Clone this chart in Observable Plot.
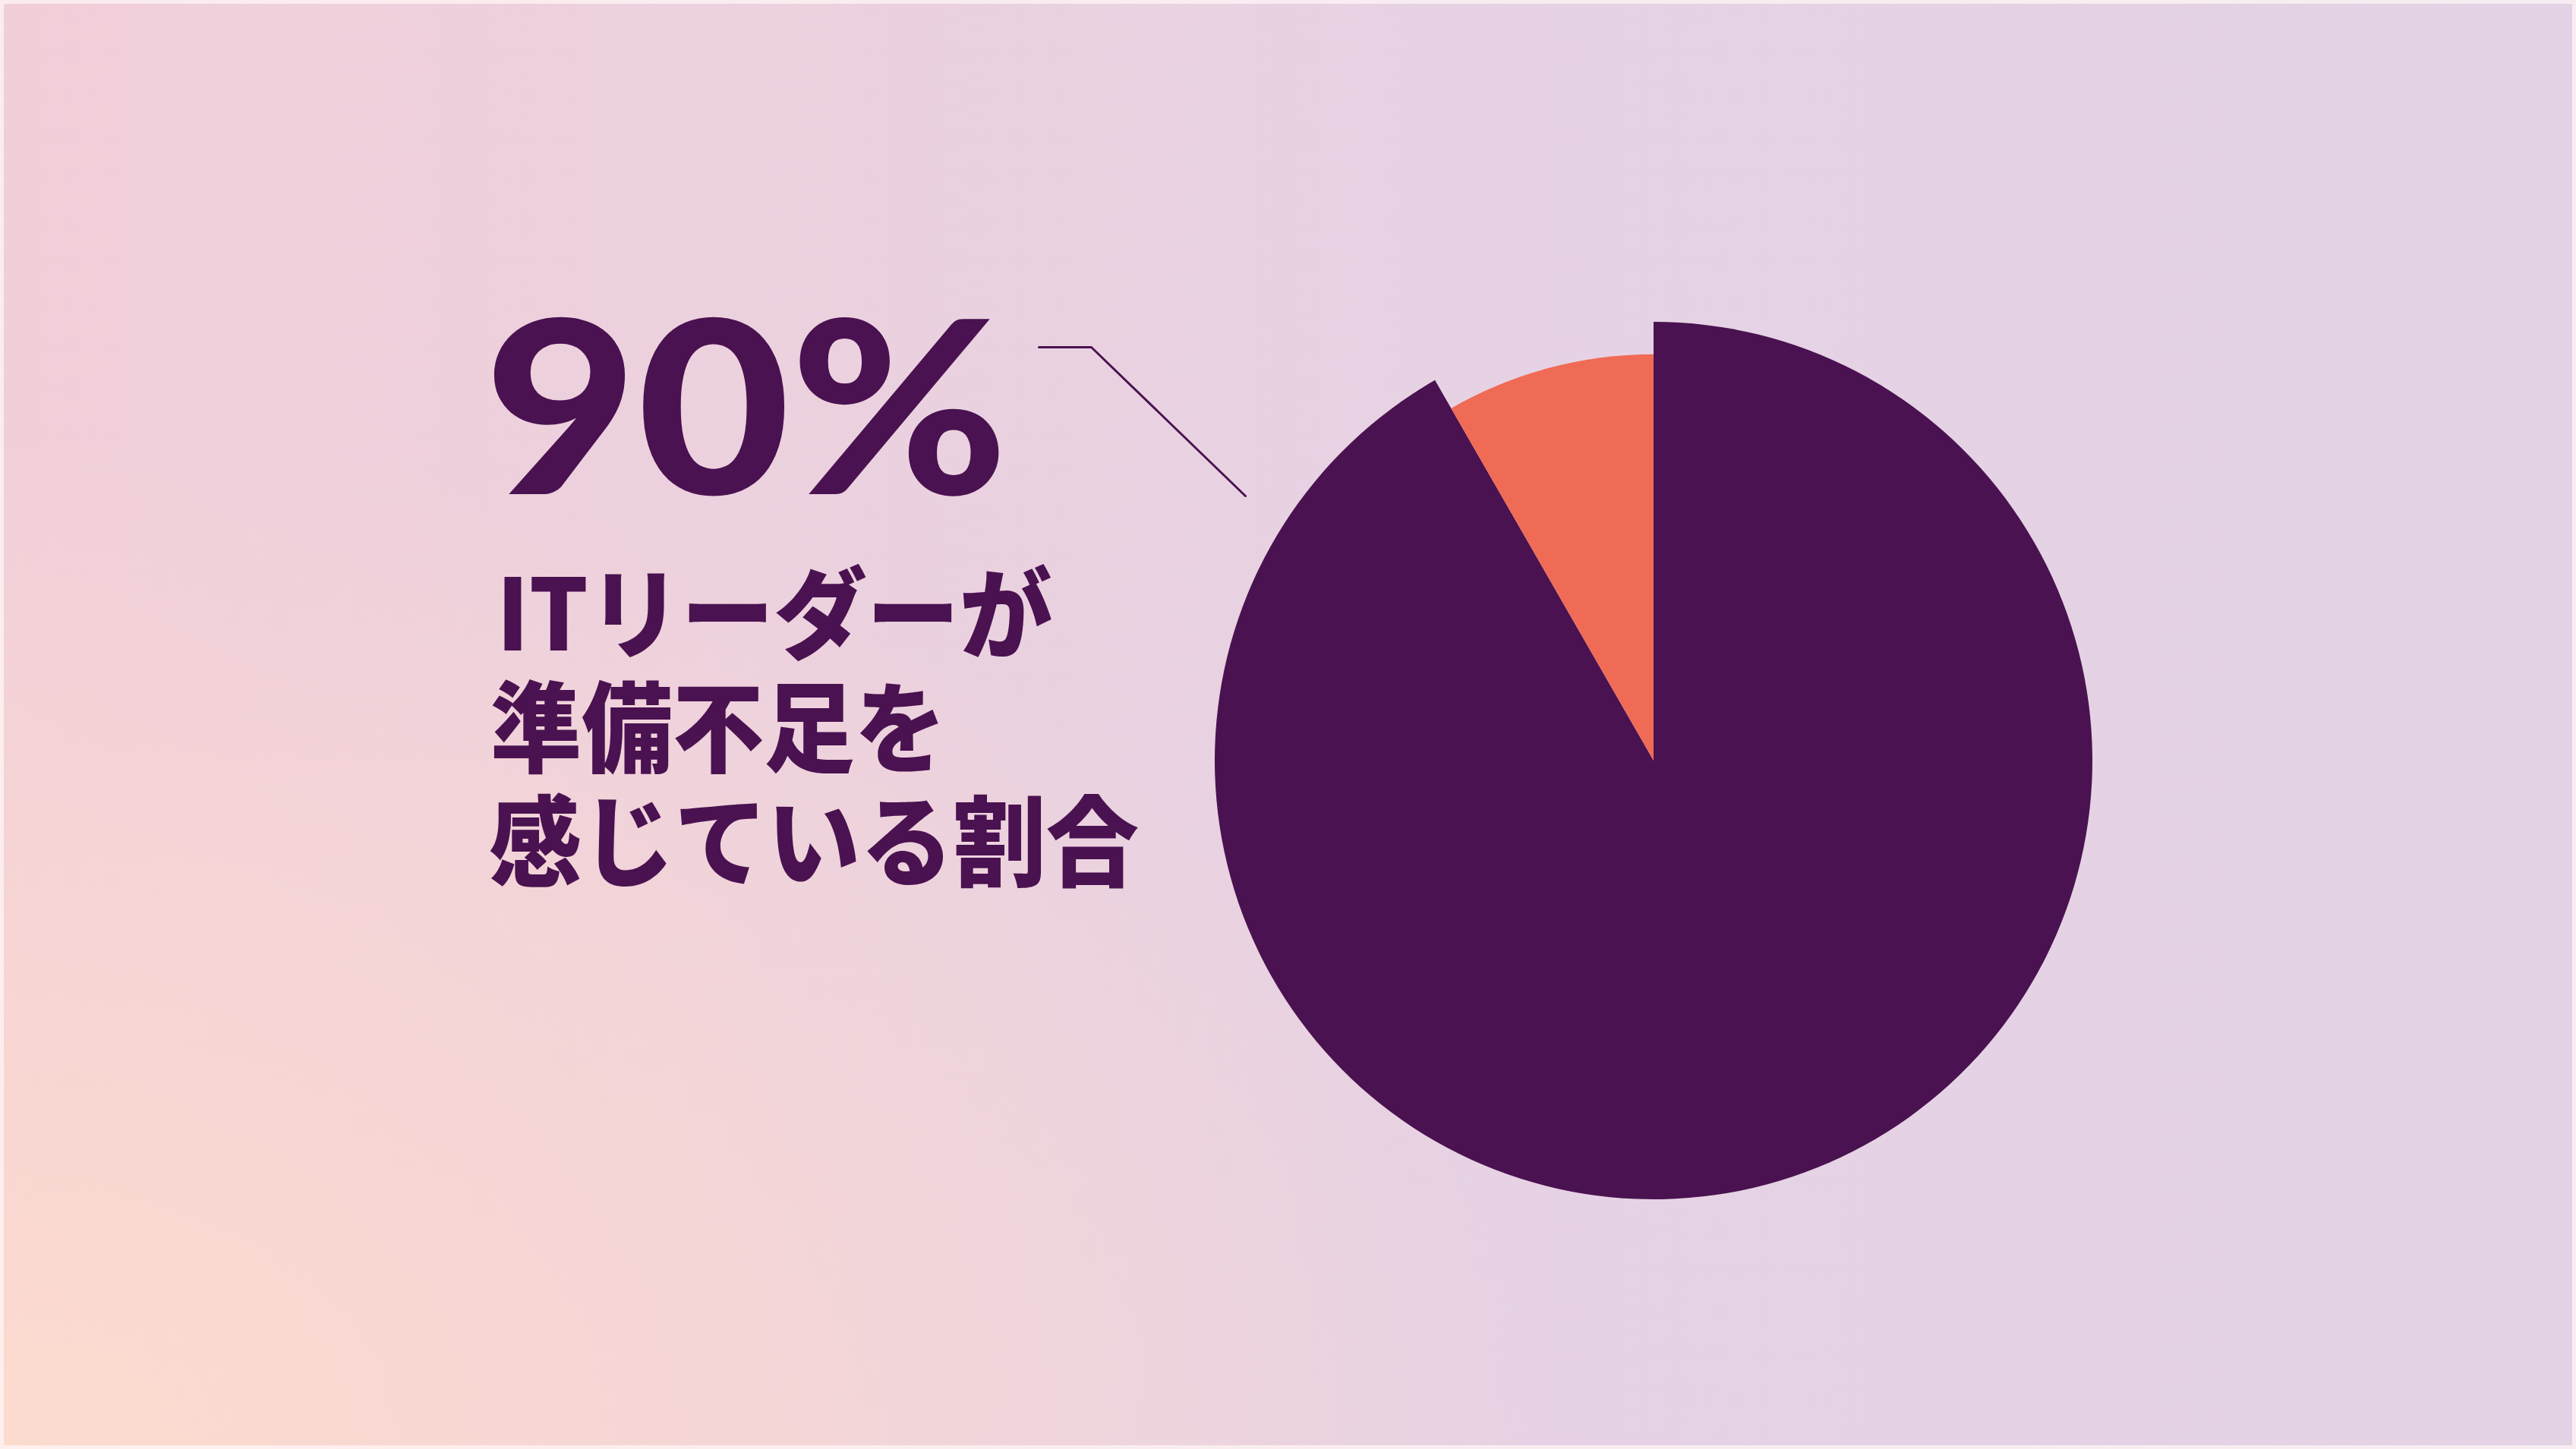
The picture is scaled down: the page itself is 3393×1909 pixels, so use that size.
<!DOCTYPE html>
<html>
<head>
<meta charset="utf-8">
<script src="https://cdn.jsdelivr.net/npm/d3@7"></script>
<script src="https://cdn.jsdelivr.net/npm/@observablehq/plot@0.6"></script>
<style>
  html, body { margin: 0; padding: 0; }
  body {
    width: 3393px; height: 1909px; overflow: hidden; position: relative;
    background:
      radial-gradient(ellipse 60% 70% at 0% 100%, rgba(252,219,207,1) 0%, rgba(252,219,207,0) 100%),
      linear-gradient(to right, #f1cfd9 0%, #ebd1df 35%, #e6d2e4 60%, #e3d3e5 100%);
  }
  #chart { position: absolute; left: 0; top: 0; }
  #headline { position: absolute; left: 0; top: 0; }
  #frame { position: absolute; left: 0; top: 0; width: 3393px; height: 1909px; box-sizing: border-box;
           border: 5px solid rgba(255,246,246,0.75); pointer-events: none; }
</style>
</head>
<body>
<div id="chart"></div>
<svg id="headline" width="3393" height="1909"></svg>
<div id="frame"></div>
<script>
// ---------- data ----------
const categories = ["準備不足を感じている", "その他"];
const shares = [91.7, 8.3];
const headlineValue = "90%";
const headlineLines = ["ITリーダーが", "準備不足を", "感じている割合"];

// ---------- style / layout ----------
const W = 3393, H = 1909;
const center = {px: 2178, py: 1002};
const unit = 578;                       // outer radius in px
const radiusFactor = [1, 0.926];        // per-slice outer radius
const sliceColors = ["#4a1250", "#f06b55"];
const ink = "#4a1250";
// leader line (in chart units)
const calloutPath = [
  {x: (1368 - center.px) / unit, y: (center.py - 457) / unit},
  {x: (1437 - center.px) / unit, y: (center.py - 457) / unit},
  {x: (1640 - center.px) / unit, y: (center.py - 653) / unit}
];

const table = categories.map((c, i) => ({category: c, share: shares[i]}));
const color = Plot.scale({color: {domain: categories, range: sliceColors}});
const xDomain = [-center.px / unit, (W - center.px) / unit];
const yDomain = [-(H - center.py) / unit, center.py / unit];

function pieMark(index, scales, values, dimensions) {
  let sx = scales && scales.x, sy = scales && scales.y;
  if (!sx) sx = d3.scaleLinear(xDomain, [0, W]);
  if (!sy) sy = d3.scaleLinear(yDomain, [H, 0]);
  const cx = sx(0), cy = sy(0), R = sx(1) - sx(0);
  const arcs = d3.pie().sort(null).value(d => d.share)(table);
  const g = d3.create("svg:g").attr("transform", `translate(${cx},${cy})`);
  g.selectAll("path").data(arcs).join("path")
    .attr("d", a => d3.arc().innerRadius(0).outerRadius(R * radiusFactor[a.index])(a))
    .attr("fill", a => color.apply(a.data.category));
  return g.node();
}

const chart = Plot.plot({
  width: W, height: H,
  margin: 0,
  style: {background: "transparent"},
  x: {domain: xDomain, axis: null},
  y: {domain: yDomain, axis: null},
  marks: [
    Plot.line(calloutPath, {x: "x", y: "y", stroke: ink, strokeWidth: 3}),
    pieMark
  ]
});
document.getElementById("chart").appendChild(chart);

// ---------- headline text ----------
const hs = d3.select("#headline");
hs.append("text")
  .attr("x", 638).attr("y", 651)
  .attr("font-family", "Lato, 'Open Sans', sans-serif")
  .attr("font-weight", 900)
  .attr("font-size", 318)
  .attr("textLength", 690)
  .attr("lengthAdjust", "spacingAndGlyphs")
  .attr("fill", ink)
  .text(headlineValue);

const lineLayout = [
  {x: 654, y: 857, len: 732},
  {x: 646, y: 1007, len: 600},
  {x: 644, y: 1157, len: 856}
];
const block = hs.append("text")
  .attr("font-family", "'Noto Sans CJK JP', sans-serif")
  .attr("font-weight", 900)
  .attr("font-size", 130)
  .attr("fill", ink);
headlineLines.forEach((t, i) => {
  block.append("tspan")
    .attr("x", lineLayout[i].x).attr("y", lineLayout[i].y)
    .attr("textLength", lineLayout[i].len)
    .attr("lengthAdjust", "spacingAndGlyphs")
    .text(t);
});
</script>
</body>
</html>
